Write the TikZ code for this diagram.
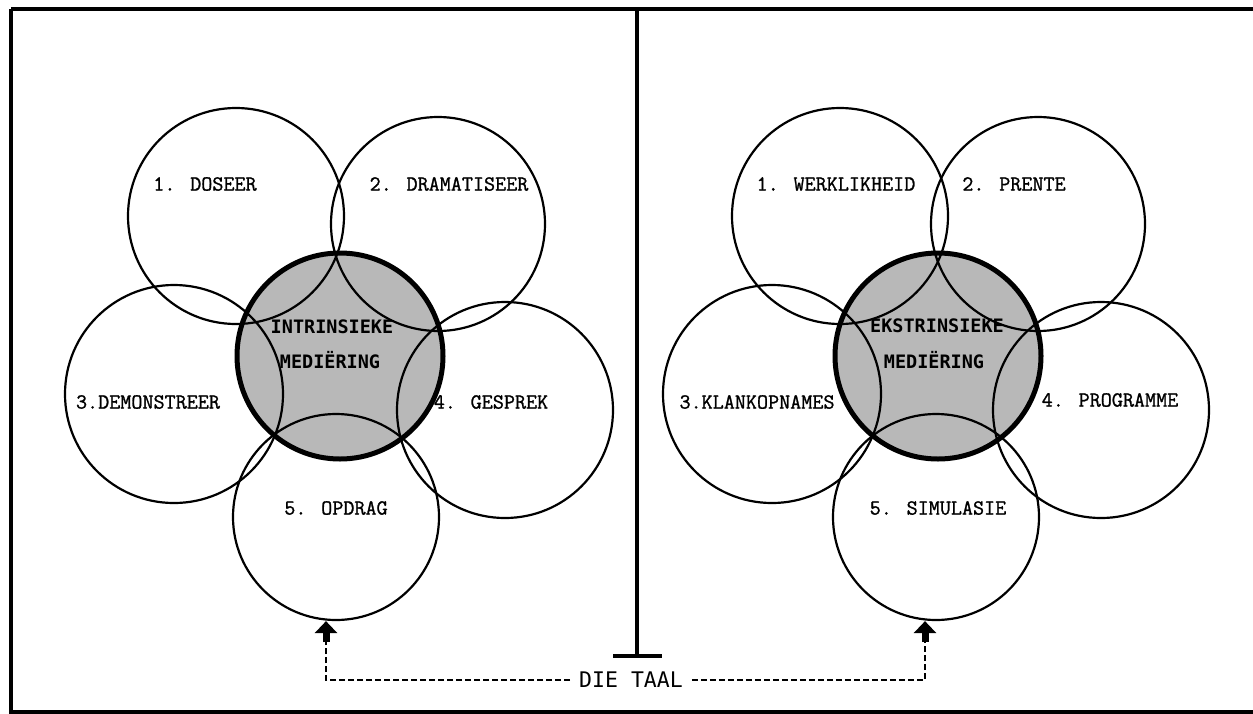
\documentclass[tikz,border=0pt]{standalone}
\usepackage{fontspec}
\newfontfamily\sansmono{DejaVu Sans Mono}
\newfontfamily\lblfont[FakeBold=1.2]{Latin Modern Mono}
\usetikzlibrary{arrows.meta}
\begin{document}
\begin{tikzpicture}[x=1pt,y=-1pt,
  ring/.style={circle,draw,line width=2.2pt,inner sep=0pt,minimum size=#1},
  core/.style={circle,inner sep=0pt,minimum size=#1},
  lbl/.style={font=\lblfont\fontsize{21.5}{24}\selectfont,inner sep=0pt},
  corelbl/.style={font=\sansmono\bfseries\fontsize{18.5}{21}\selectfont,inner sep=0pt},
  dashline/.style={line width=2pt,dash pattern=on 6pt off 3pt},
  fatarrow/.style={line width=7pt,-{Triangle[width=22pt,length=12pt]}}
]
\useasboundingbox (0,0) rectangle (1253,713);
% frame and divider
\draw[line width=4pt] (11,9) -- (1262,9);
\draw[line width=4pt] (11,9) -- (11,716);
\draw[line width=4pt] (11,712) -- (1262,712);
\coordinate (divtop) at (637,9);
\coordinate (divfoot) at (637,656);
\draw[line width=3.5pt] (divtop) -- (divfoot);
\draw[line width=4pt] ([xshift=-24pt]divfoot) -- ([xshift=25pt]divfoot);

% ---------- left group: intrinsic mediation ----------
\fill[black!28] (340,356) circle (103);
\node[ring=216pt] (l1) at (236,216) {};
\node[ring=214pt] (l2) at (438,224) {};
\node[ring=218pt] (l3) at (174,394) {};
\node[ring=216pt] (l4) at (505,410) {};
\node[ring=206pt] (l5) at (336,517) {};
\node[core=206pt,draw,line width=5pt] (lc) at (340,356) {};
\node[lbl] (l1t) at (205,184) {1. DOSEER};
\node[lbl] (l2t) at (449,184) {2. DRAMATISEER};
\node[lbl] (l3t) at (148,402) {3.DEMONSTREER};
\node[lbl] (l4t) at (491,402) {4. GESPREK};
\node[lbl] (l5t) at (336,508) {5. OPDRAG};
\node[corelbl] (lct1) at (332,327) {INTRINSIEKE};
\node[corelbl] (lct2) at (330,360) {MEDIËRING};

% ---------- right group: extrinsic mediation ----------
\fill[black!28] (938,356) circle (103);
\node[ring=216pt] (r1) at (840,216) {};
\node[ring=214pt] (r2) at (1038,224) {};
\node[ring=218pt] (r3) at (772,394) {};
\node[ring=216pt] (r4) at (1101,410) {};
\node[ring=206pt] (r5) at (936,517) {};
\node[core=206pt,draw,line width=5pt] (rc) at (938,356) {};
\node[lbl] (r1t) at (836,184) {1. WERKLIKHEID};
\node[lbl] (r2t) at (1014,184) {2. PRENTE};
\node[lbl] (r3t) at (757,402) {3.KLANKOPNAMES};
\node[lbl] (r4t) at (1110,400) {4. PROGRAMME};
\node[lbl] (r5t) at (938,508) {5. SIMULASIE};
\node[corelbl] (rct1) at (937,326) {EKSTRINSIEKE};
\node[corelbl] (rct2) at (934,360) {MEDIËRING};

% ---------- language feeding both groups ----------
\node[font=\sansmono\fontsize{21.5}{24}\selectfont,inner xsep=9pt,inner ysep=2pt] (taal) at (631,680) {DIE TAAL};
\coordinate (tipL) at ([xshift=-10pt]l5.south);
\coordinate (tipR) at ([xshift=-11pt]r5.south);
\coordinate (stemL) at ([yshift=-21pt]tipL);
\coordinate (stemR) at ([yshift=-21pt]tipR);
\draw[dashline] (taal.west) -| (stemL);
\draw[dashline] (taal.east) -| (stemR);
\draw[fatarrow] (stemL) -- (tipL);
\draw[fatarrow] (stemR) -- (tipR);
\end{tikzpicture}
\end{document}
